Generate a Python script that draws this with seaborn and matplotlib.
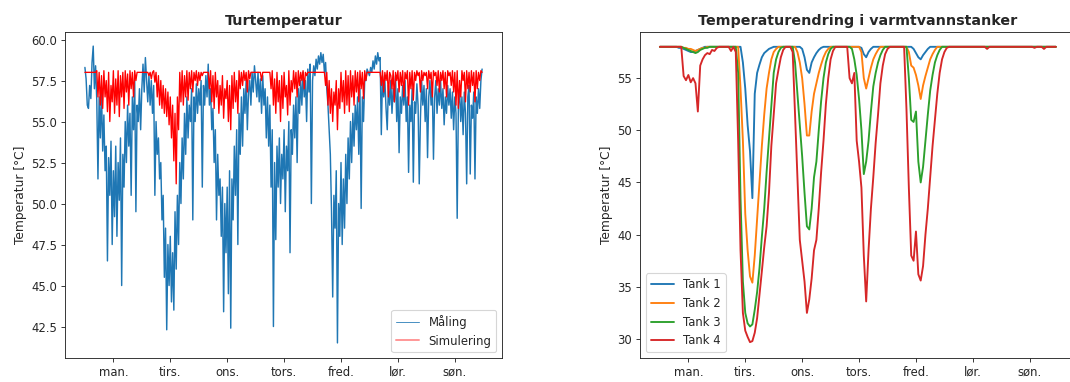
import numpy as np
import pandas as pd
import seaborn as sns
import matplotlib.pyplot as plt
from matplotlib.lines import Line2D

# =========================
# Data: turtemperatur, en verdi per halvtime (man. 00:00 -> søn. 23:30)
# =========================
maaling_man = [58.3, 57.6, 56.0, 55.8, 57.2, 56.4, 58.6, 59.6, 57.0, 58.4, 56.3, 51.5,
               56.5, 54.0, 56.8, 53.2, 55.4, 52.0, 53.5, 46.5, 52.8, 50.5, 53.8, 47.5,
               52.0, 49.2, 53.5, 48.0, 52.5, 50.2, 54.0, 45.0, 53.0, 51.0, 55.0, 52.5,
               56.0, 53.5, 55.5, 50.5, 56.5, 54.5, 57.5, 49.5, 56.0, 55.0, 57.0, 54.5]
maaling_tir = [57.0, 58.5, 56.8, 58.9, 57.5, 56.2, 57.8, 56.0, 57.5, 55.5, 57.2, 50.5,
               55.0, 53.0, 54.0, 51.5, 52.5, 49.0, 50.5, 45.5, 48.5, 42.3, 47.5, 45.0,
               48.0, 44.0, 47.0, 43.5, 49.5, 46.0, 50.5, 47.5, 52.5, 50.0, 54.0, 51.5,
               55.5, 53.0, 56.5, 54.0, 56.0, 55.0, 57.0, 49.0, 56.5, 55.0, 57.3, 55.5]
maaling_ons = [57.0, 56.0, 57.5, 51.0, 57.2, 56.0, 57.8, 56.5, 58.5, 56.0, 57.0, 54.5,
               55.8, 52.5, 54.5, 49.0, 53.0, 50.5, 51.5, 48.0, 51.0, 43.4, 50.0, 47.0,
               51.0, 44.5, 52.0, 42.4, 51.5, 49.0, 53.5, 50.5, 54.5, 47.5, 55.5, 53.0,
               56.5, 53.5, 57.0, 55.5, 57.5, 54.5, 56.8, 57.5, 56.0, 58.0, 56.8, 58.4]
maaling_tor = [57.5, 56.5, 58.0, 56.2, 57.6, 55.5, 57.8, 56.0, 57.0, 54.0, 56.5, 53.5,
               56.0, 51.0, 54.5, 42.5, 52.5, 47.8, 53.5, 51.0, 54.0, 50.0, 53.0, 51.5,
               54.5, 49.5, 53.5, 52.0, 55.0, 47.0, 54.5, 53.0, 56.0, 54.0, 56.5, 52.5,
               57.0, 55.5, 57.5, 56.0, 58.0, 56.5, 57.5, 55.0, 58.2, 56.8, 58.5, 50.0]
maaling_fre = [57.5, 58.4, 57.8, 58.8, 58.2, 59.0, 58.5, 59.2, 58.6, 59.1, 58.0, 58.6,
               57.0, 56.0, 54.5, 53.0, 49.5, 44.3, 50.5, 48.5, 52.0, 41.5, 50.0, 48.0,
               52.5, 47.5, 51.5, 48.5, 53.0, 50.0, 54.0, 51.5, 55.0, 52.5, 55.5, 53.5,
               56.0, 54.5, 56.5, 53.0, 57.0, 49.7, 56.5, 55.0, 57.5, 57.5, 58.2, 58.0]
maaling_lor = [57.8, 58.3, 58.0, 58.7, 58.2, 59.0, 58.5, 59.2, 58.7, 58.9, 54.2, 57.8,
               56.5, 57.5, 55.8, 54.5, 57.2, 56.0, 57.5, 55.5, 57.0, 56.2, 57.8, 55.0,
               57.0, 53.1, 56.5, 55.5, 57.2, 56.0, 57.5, 55.0, 56.5, 51.9, 56.0, 55.0,
               57.0, 51.3, 56.2, 55.5, 57.3, 56.0, 51.2, 55.2, 57.5, 56.0, 57.2, 55.0]
maaling_son = [57.0, 52.8, 56.5, 57.5, 56.0, 57.2, 52.7, 56.5, 57.5, 55.5, 57.0, 56.0,
               57.5, 55.8, 57.0, 54.8, 56.5, 55.5, 57.2, 56.0, 57.0, 55.2, 56.8, 54.5,
               56.5, 55.5, 49.1, 56.0, 57.0, 55.0, 56.5, 54.2, 56.8, 55.5, 51.2, 56.5,
               57.2, 51.8, 56.0, 55.2, 56.8, 51.5, 56.5, 55.5, 57.0, 55.8, 57.5, 58.2]

sim_man = [58.0, 58.0, 58.0, 58.0, 58.0, 58.0, 58.0, 58.0, 58.0, 58.0, 58.1, 56.5,
           58.0, 56.0, 57.8, 55.8, 58.1, 56.5, 57.5, 55.6, 58.0, 55.0, 57.2, 56.2,
           58.1, 55.5, 57.6, 56.0, 58.1, 55.3, 57.8, 56.5, 58.0, 55.8, 58.1, 56.8,
           57.9, 56.0, 58.1, 57.0, 58.0, 56.5, 58.1, 57.5, 58.0, 58.0, 58.0, 58.0]
sim_tir = [58.0, 58.0, 58.0, 58.0, 58.0, 58.0, 57.8, 58.0, 57.6, 58.0, 58.1, 57.4,
           58.0, 56.5, 57.8, 56.0, 57.5, 55.8, 57.2, 55.5, 57.0, 55.3, 56.8, 54.8,
           56.5, 54.0, 56.0, 52.6, 55.5, 51.2, 56.5, 54.5, 58.0, 56.2, 58.1, 56.0,
           57.8, 56.5, 58.1, 56.3, 58.0, 57.0, 58.1, 56.8, 58.0, 57.5, 58.1, 57.2]
sim_ons = [58.0, 57.5, 58.0, 57.8, 58.0, 58.0, 58.0, 58.0, 58.0, 57.0, 58.1, 56.2,
           57.8, 55.8, 58.0, 56.5, 57.5, 55.5, 57.2, 56.0, 57.8, 55.2, 57.0, 56.4,
           57.5, 55.0, 57.2, 54.5, 57.8, 55.8, 58.0, 56.2, 57.5, 55.5, 58.1, 57.0,
           58.0, 57.2, 58.1, 57.5, 58.0, 56.8, 58.1, 57.6, 58.0, 58.0, 58.0, 58.0]
sim_tor = [58.0, 58.0, 58.0, 58.0, 58.0, 57.5, 58.0, 58.0, 58.0, 58.0, 58.0, 58.0,
           58.0, 57.0, 58.1, 56.0, 57.6, 55.5, 58.0, 56.2, 57.5, 55.0, 57.8, 55.8,
           58.0, 56.5, 57.2, 55.4, 58.1, 56.0, 57.5, 56.8, 58.1, 57.0, 58.0, 56.5,
           58.1, 57.2, 58.0, 57.5, 58.1, 57.0, 58.0, 57.8, 58.0, 58.0, 58.0, 58.0]
sim_fre = [58.0, 58.0, 58.0, 58.0, 58.0, 58.0, 58.0, 58.0, 58.0, 58.0, 58.0, 57.2,
           58.0, 56.0, 57.5, 55.5, 57.0, 55.0, 56.8, 56.0, 57.5, 54.5, 57.0, 55.8,
           58.0, 56.2, 57.5, 55.5, 58.1, 56.0, 57.8, 55.6, 58.1, 56.5, 57.8, 56.0,
           58.1, 56.8, 58.0, 56.2, 58.1, 57.0, 58.0, 56.4, 58.1, 57.5, 58.0, 58.0]
sim_lor = [58.0, 58.0, 58.0, 58.0, 58.0, 58.0, 58.0, 58.0, 58.0, 58.0, 57.2, 58.1,
           56.8, 58.0, 57.5, 58.1, 56.5, 58.0, 57.8, 57.0, 58.1, 56.2, 58.0, 57.5,
           58.1, 56.8, 58.0, 57.2, 58.1, 56.5, 58.0, 57.6, 58.1, 56.0, 58.0, 57.0,
           58.1, 56.3, 58.0, 57.5, 58.1, 57.8, 58.0, 56.8, 58.1, 57.5, 58.0, 57.8]
sim_son = [58.0, 57.0, 58.1, 57.6, 58.0, 56.5, 58.1, 57.8, 58.0, 57.2, 58.1, 56.8,
           58.0, 57.5, 58.1, 57.0, 58.0, 56.5, 58.1, 57.8, 58.0, 57.2, 58.1, 56.8,
           58.0, 56.0, 58.1, 55.8, 57.5, 56.5, 58.1, 57.5, 58.0, 56.2, 58.1, 57.0,
           58.0, 56.8, 58.1, 57.2, 58.0, 56.2, 58.1, 57.0, 58.0, 57.5, 58.1, 58.0]

# =========================
# Data: tanktemperatur, en verdi per time
# =========================
tank1 = [58.0, 58.0, 58.0, 58.0, 58.0, 58.0, 58.0, 58.0, 57.9, 57.9, 57.8, 57.7,
         57.6, 57.5, 57.5, 57.6, 57.7, 57.8, 57.9, 58.0, 58.0, 58.0, 58.0, 58.0,
         58.0, 58.0, 58.0, 58.0, 58.0, 58.0, 58.0, 58.0, 58.0, 58.0, 58.0, 56.5,
         54.0, 50.5, 48.0, 43.5, 53.5, 55.5, 56.3, 57.0, 57.4, 57.6, 57.8, 57.9,
         58.0, 58.0, 58.0, 58.0, 58.0, 58.0, 58.0, 58.0, 58.0, 58.0, 58.0, 58.0,
         57.8, 57.0, 55.8, 55.5, 56.5, 57.0, 57.4, 57.7, 57.9, 58.0, 58.0, 58.0,
         58.0, 58.0, 58.0, 58.0, 58.0, 58.0, 58.0, 58.0, 58.0, 58.0, 58.0, 58.0,
         58.0, 57.9, 57.3, 57.0, 57.5, 57.8, 58.0, 58.0, 58.0, 58.0, 58.0, 58.0,
         58.0, 58.0, 58.0, 58.0, 58.0, 58.0, 58.0, 58.0, 58.0, 58.0, 58.0, 57.8,
         57.4, 57.0, 56.8, 57.2, 57.5, 57.8, 58.0, 58.0, 58.0, 58.0, 58.0, 58.0,
         58.0, 58.0, 58.0, 58.0, 58.0, 58.0, 58.0, 58.0, 58.0, 58.0, 58.0, 58.0,
         58.0, 58.0, 58.0, 58.0, 58.0, 58.0, 58.0, 58.0, 58.0, 58.0, 58.0, 58.0,
         58.0, 58.0, 58.0, 58.0, 58.0, 58.0, 58.0, 58.0, 58.0, 58.0, 58.0, 58.0,
         58.0, 58.0, 58.0, 58.0, 58.0, 58.0, 58.0, 58.0, 58.0, 58.0, 58.0, 58.0]
tank2 = [58.0, 58.0, 58.0, 58.0, 58.0, 58.0, 58.0, 58.0, 58.0, 58.0, 57.9, 57.9,
         57.8, 57.8, 57.7, 57.6, 57.7, 57.8, 57.9, 57.9, 58.0, 58.0, 58.0, 58.0,
         58.0, 58.0, 58.0, 58.0, 58.0, 58.0, 58.0, 58.0, 58.0, 58.0, 54.0, 49.0,
         42.0, 38.5, 36.0, 35.4, 38.0, 41.5, 45.0, 48.5, 51.5, 54.0, 55.5, 56.8,
         57.5, 57.8, 58.0, 58.0, 58.0, 58.0, 58.0, 58.0, 58.0, 58.0, 57.5, 56.5,
         55.0, 52.5, 49.5, 49.5, 51.8, 53.5, 54.5, 55.5, 56.3, 57.0, 57.5, 57.8,
         58.0, 58.0, 58.0, 58.0, 58.0, 58.0, 58.0, 58.0, 58.0, 58.0, 58.0, 58.0,
         58.0, 57.5, 55.0, 54.0, 55.0, 56.0, 56.8, 57.3, 57.7, 58.0, 58.0, 58.0,
         58.0, 58.0, 58.0, 58.0, 58.0, 58.0, 58.0, 58.0, 58.0, 57.5, 56.2, 56.0,
         55.3, 54.3, 53.0, 54.3, 55.2, 56.0, 56.8, 57.3, 57.7, 58.0, 58.0, 58.0,
         58.0, 58.0, 58.0, 58.0, 58.0, 58.0, 58.0, 58.0, 58.0, 58.0, 58.0, 58.0,
         58.0, 58.0, 58.0, 58.0, 58.0, 58.0, 58.0, 58.0, 58.0, 58.0, 58.0, 58.0,
         58.0, 58.0, 58.0, 58.0, 58.0, 58.0, 58.0, 58.0, 58.0, 58.0, 58.0, 58.0,
         58.0, 58.0, 58.0, 58.0, 58.0, 58.0, 58.0, 58.0, 58.0, 58.0, 58.0, 58.0]
tank3 = [58.0, 58.0, 58.0, 58.0, 58.0, 58.0, 58.0, 58.0, 58.0, 58.0, 57.9, 57.8,
         57.7, 57.6, 57.5, 57.4, 57.5, 57.7, 57.8, 57.9, 57.9, 58.0, 58.0, 58.0,
         58.0, 58.0, 58.0, 58.0, 58.0, 58.0, 58.0, 58.0, 58.0, 55.5, 43.5, 35.5,
         32.5, 31.5, 31.2, 31.4, 32.8, 34.5, 36.8, 39.8, 42.5, 46.0, 49.2, 52.5,
         55.5, 56.8, 57.5, 57.9, 58.0, 58.0, 58.0, 58.0, 58.0, 56.5, 53.5, 50.5,
         47.5, 44.0, 40.8, 40.5, 42.5, 45.5, 47.0, 50.0, 52.8, 55.0, 56.5, 57.3,
         57.8, 58.0, 58.0, 58.0, 58.0, 58.0, 58.0, 58.0, 58.0, 57.8, 56.8, 55.3,
         53.0, 50.0, 45.8, 47.0, 49.0, 51.8, 54.2, 55.5, 56.5, 57.2, 57.7, 58.0,
         58.0, 58.0, 58.0, 58.0, 58.0, 58.0, 58.0, 58.0, 58.0, 55.0, 51.0, 50.8,
         51.8, 47.0, 45.0, 46.5, 49.0, 51.5, 53.8, 55.3, 56.5, 57.2, 57.7, 58.0,
         58.0, 58.0, 58.0, 58.0, 58.0, 58.0, 58.0, 58.0, 58.0, 58.0, 58.0, 58.0,
         58.0, 58.0, 58.0, 58.0, 58.0, 58.0, 58.0, 58.0, 58.0, 58.0, 58.0, 58.0,
         58.0, 58.0, 58.0, 58.0, 58.0, 58.0, 58.0, 58.0, 58.0, 58.0, 58.0, 58.0,
         58.0, 58.0, 58.0, 58.0, 58.0, 58.0, 58.0, 58.0, 58.0, 58.0, 58.0, 58.0]
tank4 = [58.0, 58.0, 58.0, 58.0, 58.0, 58.0, 58.0, 58.0, 58.0, 58.0, 55.2, 54.8,
         55.3, 54.6, 55.0, 54.5, 51.8, 56.2, 56.8, 57.2, 57.4, 57.3, 57.7, 57.6,
         57.9, 58.0, 58.0, 58.0, 58.0, 58.0, 57.6, 58.0, 57.5, 49.0, 38.5, 32.5,
         30.8, 30.2, 29.7, 29.8, 30.6, 32.0, 34.2, 36.5, 38.8, 40.8, 44.0, 48.5,
         51.5, 54.5, 55.8, 57.0, 57.7, 58.0, 58.0, 58.0, 57.5, 51.5, 45.5, 39.5,
         37.5, 35.5, 32.5, 33.8, 35.8, 38.5, 39.5, 42.5, 46.0, 49.0, 52.5, 55.0,
         56.8, 57.6, 58.0, 58.0, 58.0, 58.0, 58.0, 58.0, 55.0, 54.5, 55.5, 49.0,
         47.0, 44.5, 38.0, 33.6, 38.5, 42.5, 45.5, 48.8, 51.5, 54.5, 56.2, 57.3,
         57.8, 58.0, 58.0, 58.0, 58.0, 58.0, 58.0, 58.0, 52.0, 44.5, 38.0, 37.5,
         40.3, 36.2, 35.6, 37.0, 40.0, 42.5, 45.5, 48.5, 51.0, 53.5, 55.5, 56.8,
         57.5, 57.9, 58.0, 58.0, 58.0, 58.0, 58.0, 58.0, 58.0, 58.0, 58.0, 58.0,
         58.0, 58.0, 58.0, 58.0, 58.0, 58.0, 57.8, 58.0, 58.0, 58.0, 58.0, 58.0,
         58.0, 58.0, 58.0, 58.0, 58.0, 58.0, 58.0, 58.0, 58.0, 58.0, 58.0, 58.0,
         58.0, 58.0, 57.9, 58.0, 58.0, 58.0, 57.8, 58.0, 58.0, 58.0, 58.0, 58.0]

dager = ["man.", "tirs.", "ons.", "tors.", "fred.", "lør.", "søn."]
tanker = ["Tank 1", "Tank 2", "Tank 3", "Tank 4"]
tank_farger = ["#1f77b4", "#ff7f0e", "#2ca02c", "#d62728"]

# =========================
# Build dataframes
# =========================
maaling = maaling_man + maaling_tir + maaling_ons + maaling_tor + maaling_fre + maaling_lor + maaling_son
simulering = sim_man + sim_tir + sim_ons + sim_tor + sim_fre + sim_lor + sim_son

df_tur = pd.DataFrame({
    "timer": np.arange(len(maaling)) * 0.5,
    "Måling": maaling,
    "Simulering": simulering,
})

df_tank = pd.DataFrame({"timer": np.arange(len(tank1))})
for navn, verdier in zip(tanker, [tank1, tank2, tank3, tank4]):
    df_tank[navn] = verdier

# =========================
# Plot
# =========================
sns.set_style("white", {"xtick.bottom": True, "ytick.left": True, "axes.edgecolor": "0.15"})
plt.rcParams["font.family"] = ["DejaVu Sans"]
plt.rcParams["font.size"] = 10.5

fig = plt.figure(figsize=(1070 / 80, 382 / 80), dpi=80)
ax1 = fig.add_axes([65 / 1070, 24 / 382, 437 / 1070, 326 / 382])
# høyre akse går litt ut over kanten, som i originalen
ax2 = fig.add_axes([640 / 1070, 24 / 382, 445 / 1070, 326 / 382])

# venstre: turtemperatur
sns.lineplot(data=df_tur, x="timer", y="Måling", ax=ax1, color="#1f77b4",
             lw=1.3, estimator=None, sort=False)
sns.lineplot(data=df_tur, x="timer", y="Simulering", ax=ax1, color="red",
             lw=1.2, estimator=None, sort=False)
handles = [Line2D([], [], color="#1f77b4", lw=0.9, alpha=0.8),
           Line2D([], [], color="red", lw=1.8, alpha=0.4)]
ax1.legend(handles, ["Måling", "Simulering"], loc="lower right")
ax1.set_title("Turtemperatur", fontweight="bold", fontsize=12.8)
ax1.set_yticks(np.arange(42.5, 60.1, 2.5))
ax1.set_ylim(40.58, 60.46)
ax1.set_xlim(-8.4, 175.9)

# høyre: tanker
for navn, farge in zip(tanker, tank_farger):
    sns.lineplot(data=df_tank, x="timer", y=navn, ax=ax2, color=farge,
                 lw=1.7, label=navn, estimator=None, sort=False)
ax2.legend(loc="lower left")
ax2.set_title("Temperaturendring i varmtvannstanker", fontweight="bold", fontsize=12.8)
ax2.title.set_position((0.49, 1.0))
ax2.set_yticks([30, 35, 40, 45, 50, 55])
ax2.set_ylim(28.18, 59.42)
ax2.set_xlim(-8.4, 179.3)

for ax in (ax1, ax2):
    ax.set_xticks(np.arange(12, 168, 24))
    ax.set_xticklabels(dager)
    ax.set_xlabel("")
    ax.set_ylabel("Temperatur [°C]", fontsize=11)

fig.savefig("out.png", dpi=80)
